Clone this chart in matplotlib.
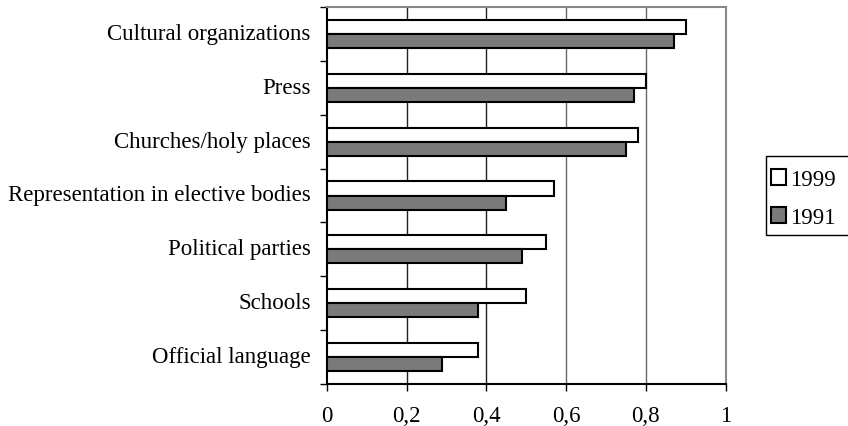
import matplotlib
matplotlib.use("Agg")
import matplotlib.pyplot as plt
import matplotlib.transforms as mtransforms
import numpy as np
from matplotlib.patches import Patch, Rectangle

plt.rcParams['font.family'] = ['Liberation Serif', 'DejaVu Serif']

categories = ['Cultural organizations', 'Press', 'Churches/holy places',
              'Representation in elective bodies', 'Political parties',
              'Schools', 'Official language']
v1999 = [0.90, 0.80, 0.78, 0.57, 0.55, 0.50, 0.38]
v1991 = [0.87, 0.77, 0.75, 0.45, 0.49, 0.38, 0.29]
xticks = [0, 0.2, 0.4, 0.6, 0.8, 1.0]
xlabels = ['0', '0,2', '0,4', '0,6', '0,8', '1']

W, H = 848, 427
fig = plt.figure(figsize=(W / 100, H / 100), dpi=100)
ax = fig.add_axes([326.7 / W, 1 - 385 / H, 399 / W, 377 / H])

y = np.arange(len(categories))
h = 0.26
ax.barh(y - h / 2, v1999, h, color='white', edgecolor='black', linewidth=1.5, zorder=3)
ax.barh(y + h / 2, v1991, h, color='#7a7a7a', edgecolor='black', linewidth=1.5, zorder=3)

ax.set_xlim(0, 1)
ax.set_ylim(len(categories) - 0.5, -0.5)
ax.set_xticks(xticks)
ax.set_xticklabels(xlabels, fontsize=16.5)
ax.set_yticks(np.arange(len(categories) + 1) - 0.5)
ax.set_yticklabels([])
ax.set_yticks(y, minor=True)
ax.set_yticklabels(categories, minor=True, fontsize=16.5)
ax.tick_params(axis='y', which='minor', length=0, pad=11.5)
ax.tick_params(axis='y', which='major', length=5, direction='out', width=1)
ax.tick_params(axis='x', length=5, direction='out', width=1, pad=10)

# nudge category labels up a little
shift = mtransforms.ScaledTranslation(0, 3 / 100, fig.dpi_scale_trans)
for lbl in ax.get_yticklabels(minor=True):
    lbl.set_transform(lbl.get_transform() + shift)

for xv in xticks[1:-1]:
    ax.axvline(xv, color='#222222' if xv < 0.5 else '#666666', linewidth=1, zorder=1)

ax.spines['left'].set_color('black')
ax.spines['bottom'].set_color('black')
ax.spines['top'].set_color('#888888')
ax.spines['right'].set_color('#888888')
for s in ax.spines.values():
    s.set_linewidth(1.5)

# legend box runs off the right edge like in the source
fig.patches.append(Rectangle((765.7 / W, 1 - 235.7 / H), 90 / W, 78.7 / H,
                             transform=fig.transFigure, facecolor='white',
                             edgecolor='black', linewidth=1))
handles = [Patch(facecolor='white', edgecolor='black', linewidth=1.5, label='1999'),
           Patch(facecolor='#7a7a7a', edgecolor='black', linewidth=1.5, label='1991')]
fig.legend(handles=handles, loc='upper left', bbox_to_anchor=(771 / W, 1 - 170 / H),
           fontsize=16.5, frameon=False, handlelength=0.65, handleheight=0.65,
           handletextpad=0.2, labelspacing=0.75, borderpad=0, borderaxespad=0)

fig.savefig('out.png', dpi=100)
